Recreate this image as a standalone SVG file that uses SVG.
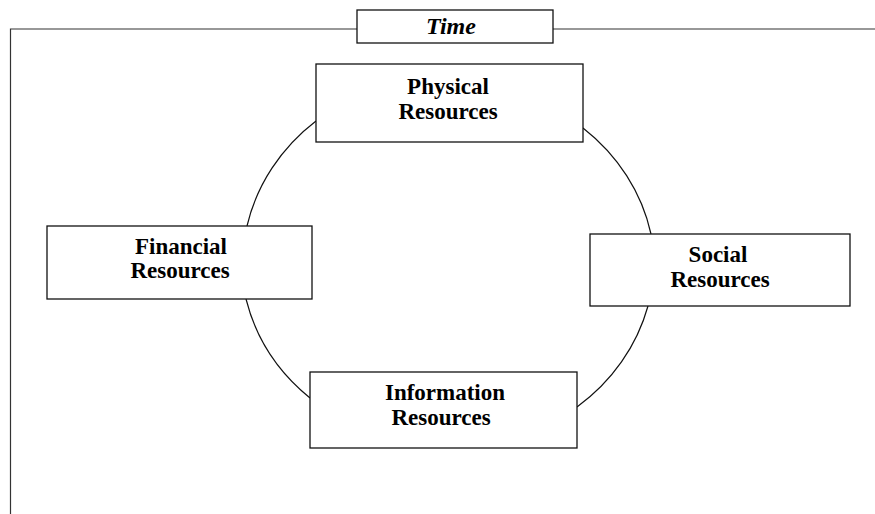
<svg xmlns="http://www.w3.org/2000/svg" width="875" height="514" viewBox="0 0 875 514">
<style>
.box{fill:#fff;stroke:#111;stroke-width:1.3}
.lbl{font-family:"Liberation Serif","Times New Roman",serif;font-weight:bold;font-size:23px;fill:#000;text-anchor:middle}
.time{font-style:italic;font-size:24px}
.arc{fill:none;stroke:#111;stroke-width:1.2}
.frame{fill:none;stroke:#333;stroke-width:1.2}
</style>
<rect width="875" height="514" fill="#fff"/>
<g id="frame">
<path class="frame" d="M10.5,514 V29 H875"/>
</g>
<g id="connectors">
<path class="arc" d="M316,121 A203,188 0 0,0 247,226"/>
<path class="arc" d="M246,299 A203,188 0 0,0 310,398"/>
<path class="arc" d="M577,407 A203,188 0 0,0 648,306"/>
<path class="arc" d="M651,234 A203,188 0 0,0 583,128"/>
</g>
<g id="time">
<rect class="box" x="357" y="10" width="196" height="33"/>
<text class="lbl time" x="451" y="34">Time</text>
</g>
<g id="physical">
<rect class="box" x="316" y="64" width="267" height="78"/>
<text class="lbl" x="448" y="94">Physical</text>
<text class="lbl" x="448" y="119">Resources</text>
</g>
<g id="financial">
<rect class="box" x="47" y="226" width="265" height="73"/>
<text class="lbl" x="181" y="254">Financial</text>
<text class="lbl" x="180" y="278">Resources</text>
</g>
<g id="social">
<rect class="box" x="590" y="234" width="260" height="72"/>
<text class="lbl" x="718" y="262">Social</text>
<text class="lbl" x="720" y="287">Resources</text>
</g>
<g id="information">
<rect class="box" x="310" y="372" width="267" height="76"/>
<text class="lbl" x="445" y="400">Information</text>
<text class="lbl" x="441" y="425">Resources</text>
</g>
</svg>
